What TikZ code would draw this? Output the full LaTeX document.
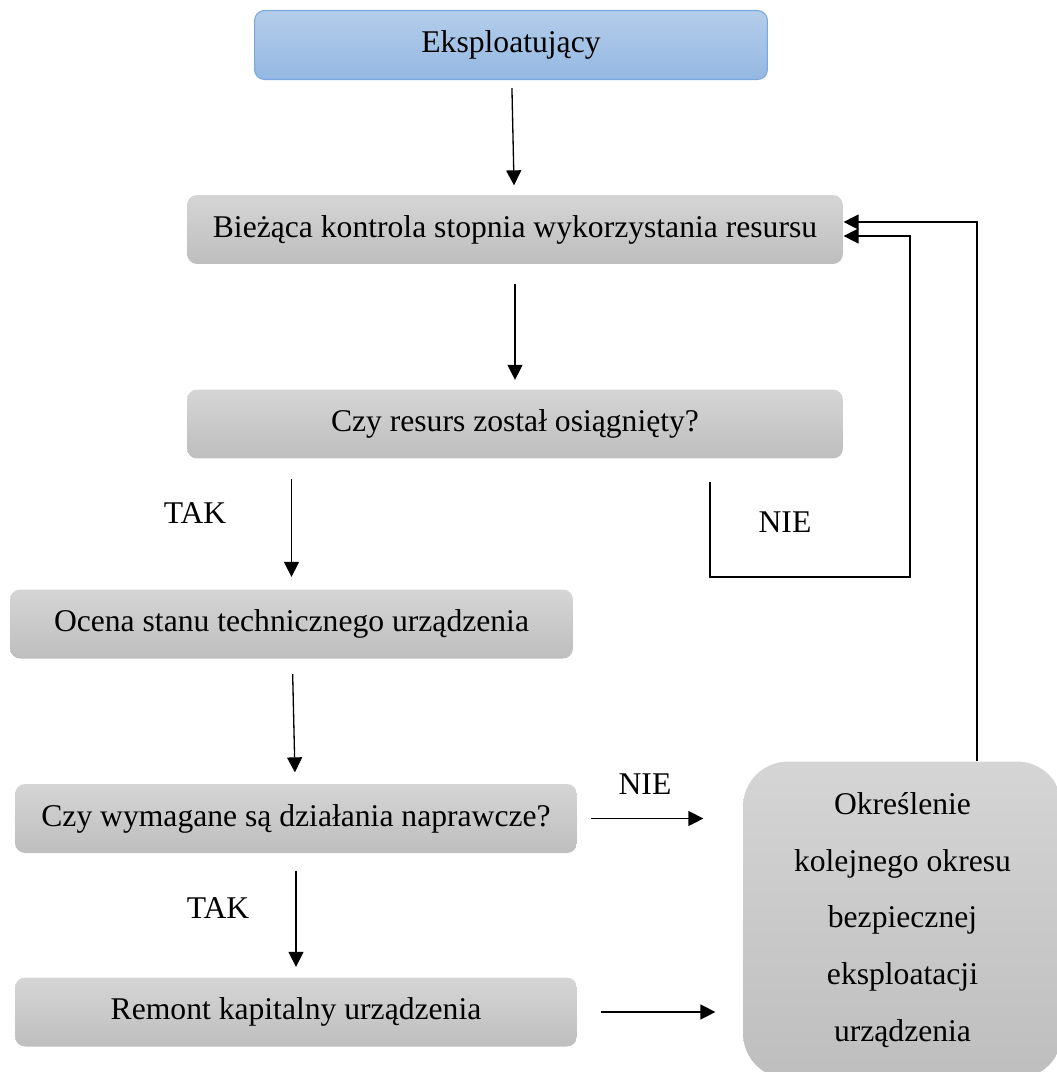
\documentclass[tikz,border=0pt]{standalone}
\usepackage{fontspec}
\setmainfont{Liberation Serif}
\usetikzlibrary{arrows.meta}
\definecolor{boxtop}{HTML}{D5D5D5}
\definecolor{boxbot}{HTML}{BEBEBE}
\definecolor{bluetop}{HTML}{B4CDEA}
\definecolor{bluebot}{HTML}{94B8E2}
\definecolor{blueline}{HTML}{7BA7DC}
\begin{document}
\begin{tikzpicture}[x=0.02cm, y=-0.02cm, >={Triangle[length=0.3cm, width=0.3cm]}, line width=0.75pt,
  font=\fontsize{18}{21.6}\selectfont,
  box/.style={rounded corners=0.2cm, top color=boxtop, bottom color=boxbot, draw=none,
    minimum height=1.38cm, inner sep=0pt},
  startbox/.style={box, top color=bluetop, bottom color=bluebot, draw=blueline, line width=0.6pt},
  lbl/.style={inner sep=0pt}]
\useasboundingbox (0,0) rectangle (1056,1072);
\node[startbox, minimum width=10.26cm] (eksp) at (511,45) {Eksploatujący};
\node[box, minimum width=13.12cm] (biez) at (515,229.5) {Bieżąca kontrola stopnia wykorzystania resursu};
\node[box, minimum width=13.12cm] (czy) at (515,424) {Czy resurs został osiągnięty?};
\node[box, minimum width=11.26cm] (ocena) at (291.5,624) {Ocena stanu technicznego urządzenia};
\node[box, minimum width=11.24cm] (wym) at (296,818.5) {Czy wymagane są działania naprawcze?};
\node[box, minimum width=11.24cm] (remont) at (296,1012) {Remont kapitalny urządzenia};
\node[box, rounded corners=0.9cm, minimum width=6.38cm, minimum height=6.34cm, align=center,
  font=\fontsize{18}{32.2}\selectfont] (okr) at (902.5,920)
  {Określenie\\kolejnego okresu\\bezpiecznej\\eksploatacji\\urządzenia};
% etykiety
\node[lbl] (tak1) at (195,513) {TAK};
\node[lbl] (tak2) at (218,908) {TAK};
\node[lbl] (nie1) at (785,522) {NIE};
\node[lbl] (nie2) at (645,784) {NIE};
\coordinate (nieA) at (710,482);
% strzalki
\draw[->, shorten <=0.16cm, shorten >=0.18cm] (eksp) -- (biez);
\draw[->, shorten <=0.38cm, shorten >=0.18cm] (biez) -- (czy);
\draw[->, shorten <=0.4cm, shorten >=0.24cm] (czy.south -| ocena.north) -- (ocena.north);
\draw[->, shorten <=0.3cm, shorten >=0.22cm] (ocena) -- (wym);
\draw[->, shorten <=0.34cm, shorten >=0.2cm] (wym) -- (remont);
\draw[->, shorten <=0.26cm, shorten >=0.78cm] (wym.east) -- (okr.west |- wym.east);
\draw[->, shorten <=0.46cm, shorten >=0.54cm] (remont.east) -- (okr.west |- remont.east);
\draw[->] (nieA) |- (910,577) |- ([yshift=-0.13cm]biez.east);
\draw[->] ([xshift=1.49cm]okr.north) |- ([yshift=0.15cm]biez.east);
\end{tikzpicture}
\end{document}
